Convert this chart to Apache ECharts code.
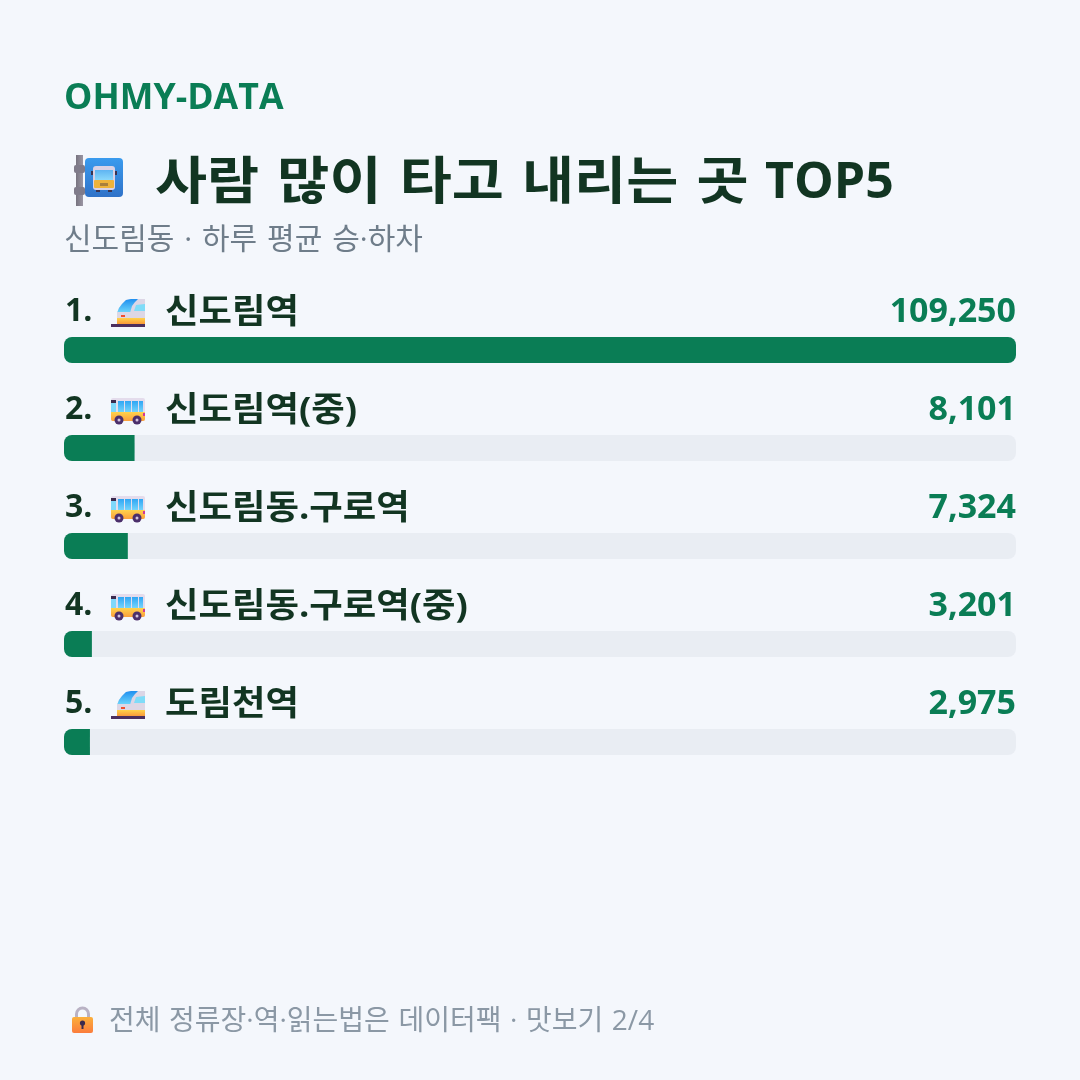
<!DOCTYPE html>
<html lang="ko">
<head>
<meta charset="utf-8">
<style>html,body{margin:0;padding:0;background:#f4f7fc}#c{width:1080px;height:1080px}</style>
<script src="https://cdn.jsdelivr.net/npm/echarts@6/dist/echarts.min.js"></script>
</head>
<body>
<div id="c"></div>
<script>
// Daily boardings and alightings per stop, Sindorim-dong
const ranks = ['1.', '2.', '3.', '4.', '5.'];
const stops = ['신도림역', '신도림역(중)', '신도림동.구로역', '신도림동.구로역(중)', '도림천역'];
const riders = [109250, 8101, 7324, 3201, 2975];
const stopKinds = ['train', 'bus', 'bus', 'bus', 'train'];

const brandText = 'OHMY-DATA';
const titleText = '사람 많이 타고 내리는 곳';
const titleTail = 'TOP5';
const subtitleText = '신도림동 · 하루 평균 승·하차';
const footerText = '전체 정류장·역·읽는법은 데이터팩 · 맛보기 2/4';

const FONT = '"Open Sans","Noto Sans CJK KR",sans-serif';
const GREEN = '#0a7d55';
const DARK = '#123522';

const fmt = n => n.toLocaleString('en-US');
const chart = echarts.init(document.getElementById('c'), null, { renderer: 'canvas' });

const vgrad = (...stops) => ({
  type: 'linear', x: 0, y: 0, x2: 0, y2: 1,
  colorStops: stops.map((c, i) => ({ offset: i / (stops.length - 1), color: c }))
});

// Small pictograms assembled from primitives
function trainIcon(x, y) {
  return { type: 'group', x, y, silent: true, children: [
    { type: 'polygon', shape: { points: [[6, 14], [8, 9], [11, 5], [15, 1], [20, 0], [34, 0], [34, 14]] }, style: { fill: '#dcd6e6' } },
    { type: 'polygon', shape: { points: [[6, 14], [8, 9], [11, 5], [15, 1], [20, 0], [27, 0], [24, 3], [21, 7], [19, 14]] }, style: { fill: vgrad('#1f8ff0', '#6fd8fb') } },
    { type: 'polygon', shape: { points: [[23, 12], [25, 6], [34, 5], [34, 12]] }, style: { fill: '#7fdcf8' } },
    { type: 'rect', shape: { x: 6, y: 13, width: 28, height: 7 }, style: { fill: '#ddd7e5' } },
    { type: 'rect', shape: { x: 10, y: 16, width: 4, height: 2 }, style: { fill: '#f0502e' } },
    { type: 'rect', shape: { x: 6, y: 19, width: 28, height: 6 }, style: { fill: vgrad('#ffd24a', '#f99a3a') } },
    { type: 'rect', shape: { x: 0, y: 25, width: 34, height: 3 }, style: { fill: '#4b2f5e' } }
  ] };
}

function busIcon(x, y) {
  const windows = [[7, 6], [14, 6], [21, 6], [28, 4]].map(([wx, w]) => ({
    type: 'rect', shape: { x: wx, y: 3, width: w, height: 11 }, style: { fill: vgrad('#2fa6f5', '#74d4fb') }
  }));
  const wheel = cx => [
    { type: 'circle', shape: { cx, cy: 22, r: 4.5 }, style: { fill: '#4b2f6b' } },
    { type: 'circle', shape: { cx, cy: 22, r: 1.5 }, style: { fill: '#d3c4de' } }
  ];
  return { type: 'group', x, y, silent: true, children: [
    { type: 'rect', shape: { x: 0, y: 0, width: 34, height: 23, r: 2 }, style: { fill: '#e4dcec' } },
    { type: 'rect', shape: { x: 0, y: 2, width: 5, height: 3 }, style: { fill: '#3a2a4e' } },
    { type: 'rect', shape: { x: 0, y: 5, width: 5, height: 9 }, style: { fill: '#7fd8fb' } },
    ...windows,
    { type: 'rect', shape: { x: 0, y: 14, width: 34, height: 9, r: [0, 0, 2, 2] }, style: { fill: vgrad('#ffd34c', '#fb9f3c') } },
    { type: 'rect', shape: { x: 32, y: 15, width: 2, height: 3 }, style: { fill: '#d0379a' } },
    ...wheel(8), ...wheel(26)
  ] };
}

function busStopIcon(x, y) {
  const clamp = cy => ({ type: 'rect', shape: { x: 0, y: cy, width: 11, height: 8, r: 2 }, style: { fill: '#7f7b8a' } });
  return { type: 'group', x, y, silent: true, children: [
    { type: 'rect', shape: { x: 2, y: 0, width: 7, height: 51 }, style: { fill: { type: 'linear', x: 0, y: 0, x2: 1, y2: 0, colorStops: [{ offset: 0, color: '#77737f' }, { offset: 1, color: '#9a96a4' }] } } },
    clamp(10), clamp(32),
    { type: 'rect', shape: { x: 11, y: 3, width: 38, height: 39, r: 4 }, style: { fill: vgrad('#3a9bee', '#2f72c8') } },
    { type: 'rect', shape: { x: 19, y: 11, width: 22, height: 24, r: 3 }, style: { fill: '#d9d2e6' } },
    { type: 'rect', shape: { x: 21, y: 15, width: 18, height: 10 }, style: { fill: vgrad('#5fb4f2', '#8ad8fb') } },
    { type: 'rect', shape: { x: 20, y: 25, width: 20, height: 8, r: 1 }, style: { fill: '#eeb33a' } },
    { type: 'rect', shape: { x: 26, y: 28, width: 8, height: 3 }, style: { fill: '#a97f3a' } },
    { type: 'rect', shape: { x: 17, y: 16, width: 2, height: 4 }, style: { fill: '#3b3350' } },
    { type: 'rect', shape: { x: 41, y: 16, width: 2, height: 4 }, style: { fill: '#3b3350' } },
    { type: 'rect', shape: { x: 22, y: 35, width: 4, height: 2 }, style: { fill: '#3b3350' } },
    { type: 'rect', shape: { x: 34, y: 35, width: 4, height: 2 }, style: { fill: '#3b3350' } }
  ] };
}

function lockIcon(x, y) {
  return { type: 'group', x, y, silent: true, children: [
    { type: 'arc', shape: { cx: 10.5, cy: 7, r: 6, startAngle: Math.PI, endAngle: 0, clockwise: true }, style: { fill: 'none', stroke: '#b9b2c4', lineWidth: 3 } },
    { type: 'rect', shape: { x: 3, y: 7, width: 3, height: 6 }, style: { fill: '#b9b2c4' } },
    { type: 'rect', shape: { x: 15, y: 7, width: 3, height: 6 }, style: { fill: '#b9b2c4' } },
    { type: 'rect', shape: { x: 0, y: 10, width: 21, height: 16, r: 2 }, style: { fill: vgrad('#fbb03b', '#fb7c3c') } },
    { type: 'circle', shape: { cx: 10.5, cy: 16, r: 2.6 }, style: { fill: '#3a2a4e' } },
    { type: 'rect', shape: { x: 9.5, y: 17, width: 2, height: 5 }, style: { fill: '#3a2a4e' } }
  ] };
}

// Text with the word gaps widened through a larger space glyph
const wordText = (x, y, text, size, weight, fill, scaleX, gapSize, align) => ({
  type: 'text', x, y, scaleX: scaleX || 1, silent: true,
  style: {
    text: gapSize ? text.split(' ').join('{s| }') : text,
    fill, fontFamily: FONT, fontSize: size, fontWeight: weight,
    align: align || 'left', verticalAlign: 'middle',
    rich: gapSize ? { s: { fontFamily: FONT, fontSize: gapSize } } : undefined
  }
});

chart.setOption({
  animation: false,
  backgroundColor: '#f4f7fc',
  grid: { left: 64, right: 64, top: 301, height: 490 },
  xAxis: { type: 'value', min: 0, max: riders[0], show: false },
  yAxis: {
    type: 'category', inverse: true, data: stops,
    axisLine: { show: false }, axisTick: { show: false }, axisLabel: { show: false }
  },
  series: [{
    type: 'bar', barWidth: 26,
    data: riders.map((v, i) => ({
      value: v,
      itemStyle: { borderRadius: i === 0 ? 8 : [8, 0, 0, 8] }
    })),
    itemStyle: { color: GREEN },
    showBackground: true,
    backgroundStyle: { color: '#e9edf3', borderRadius: 8 }
  }]
});

// Row captions and pictograms follow the bands of the category axis
const bandY = i => chart.convertToPixel({ yAxisIndex: 0 }, i);
chart.setOption({
  graphic: [
    wordText(64, 99, brandText, 35, 700, GREEN, 1.02),
    wordText(155, 184, titleText, 51, 700, DARK, 1.11, 63),
    wordText(765, 184, titleTail, 50, 700, DARK),
    wordText(64, 240, subtitleText, 30, 400, '#6f7d8a', 1, 38),
    wordText(109, 1022, footerText, 28, 400, '#8b98a5', 1, 33),
    busStopIcon(74, 155),
    lockIcon(72, 1007),
    ...ranks.map((r, i) => wordText(65, bandY(i) - 38, r, 32, 700, DARK)),
    ...stops.map((name, i) => wordText(165, bandY(i) - 37, name, 34, 700, DARK, 1.07)),
    ...riders.map((v, i) => wordText(1016, bandY(i) - 38, fmt(v), 34, 700, GREEN, 1, 0, 'right')),
    ...stopKinds.map((k, i) => k === 'train' ? trainIcon(111, bandY(i) - 51) : busIcon(111, bandY(i) - 50))
  ]
});
</script>
</body>
</html>
